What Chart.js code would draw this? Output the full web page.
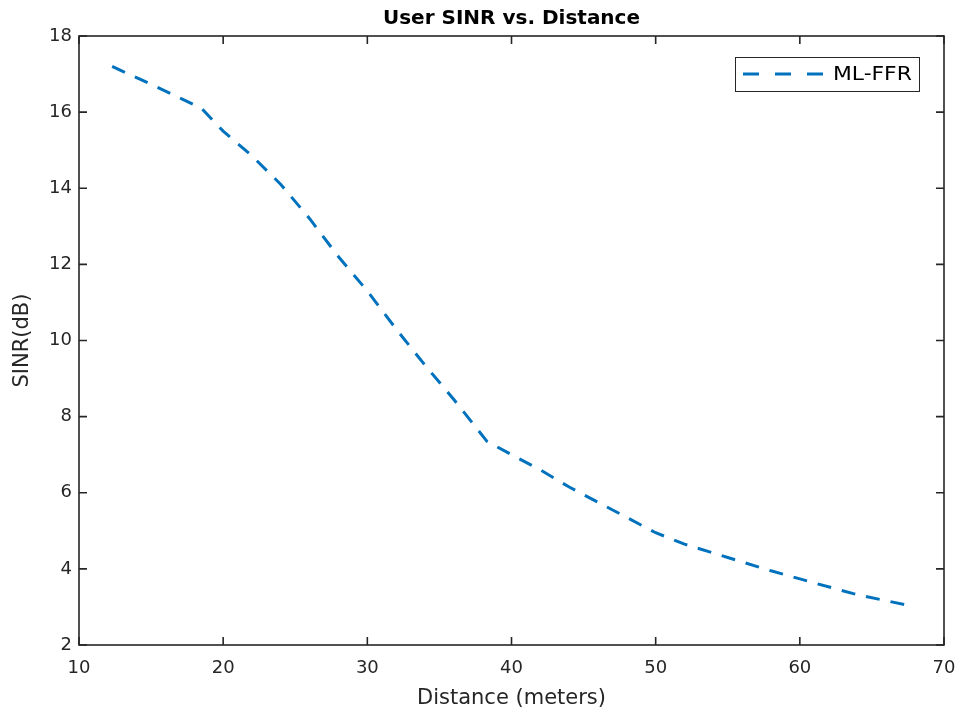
<!DOCTYPE html>
<html>
<head>
<meta charset="utf-8">
<script src="https://cdn.jsdelivr.net/npm/chart.js@4.4.1/dist/chart.umd.min.js"></script>
<style>
  html, body { margin: 0; padding: 0; background: #fff; }
  #wrap { width: 961px; height: 711px; position: relative; }
</style>
</head>
<body>
<div id="wrap"><canvas id="sinrChart"></canvas></div>
<script>
// distance (meters) and SINR (dB)
const distance = [12.3, 15, 18.5, 20, 22, 24, 26, 28, 30, 32, 34, 36, 38.3, 40, 42, 44, 46, 48, 50, 52, 55, 58, 61, 64, 67.8];
const sinr     = [17.2, 16.73, 16.1, 15.5, 14.85, 14.1, 13.2, 12.2, 11.3, 10.3, 9.35, 8.45, 7.35, 7.0, 6.6, 6.15, 5.75, 5.35, 4.95, 4.65, 4.3, 3.95, 3.63, 3.32, 3.02];
const seriesLabel = 'ML-FFR';
const xTicks = [10, 20, 30, 40, 50, 60, 70];
const yTicks = [2, 4, 6, 8, 10, 12, 14, 16, 18];

const axisColor = '#262626';
const lineColor = '#0072BD';
const fontFamily = '"DejaVu Sans", Verdana, sans-serif';

// matlab-ish box with inward ticks on all four sides + boxed legend
const boxPlugin = {
  id: 'boxPlugin',
  afterDraw(chart) {
    const ctx = chart.ctx;
    const a = chart.chartArea;
    const xs = chart.scales.x, ys = chart.scales.y;
    const tl = 8;
    ctx.save();
    ctx.strokeStyle = axisColor;
    ctx.lineWidth = 1.6;
    ctx.strokeRect(a.left, a.top, a.right - a.left, a.bottom - a.top);
    ctx.beginPath();
    xs.ticks.forEach(t => {
      const px = xs.getPixelForValue(t.value);
      ctx.moveTo(px, a.bottom); ctx.lineTo(px, a.bottom - tl);
      ctx.moveTo(px, a.top); ctx.lineTo(px, a.top + tl);
    });
    ys.ticks.forEach(t => {
      const py = ys.getPixelForValue(t.value);
      ctx.moveTo(a.left, py); ctx.lineTo(a.left + tl, py);
      ctx.moveTo(a.right, py); ctx.lineTo(a.right - tl, py);
    });
    ctx.stroke();

    // legend
    const ds = chart.data.datasets[0];
    const bw = 184, bh = 34;
    const bx = a.right - 25 - bw, by = a.top + 21;
    ctx.fillStyle = '#fff';
    ctx.fillRect(bx, by, bw, bh);
    ctx.lineWidth = 1;
    ctx.strokeStyle = axisColor;
    ctx.strokeRect(bx + 0.5, by + 0.5, bw, bh);
    ctx.strokeStyle = ds.borderColor;
    ctx.lineWidth = ds.borderWidth;
    ctx.setLineDash([16, 16]);
    ctx.beginPath();
    ctx.moveTo(bx + 8, by + bh / 2);
    ctx.lineTo(bx + 88, by + bh / 2);
    ctx.stroke();
    ctx.setLineDash([]);
    ctx.fillStyle = '#000';
    ctx.font = '19px ' + fontFamily;
    ctx.textBaseline = 'middle';
    ctx.textAlign = 'left';
    ctx.translate(bx + 98, by + bh / 2 + 1);
    ctx.scale(1.15, 1);
    ctx.fillText(ds.label, 0, 0);
    ctx.restore();
  }
};

new Chart(document.getElementById('sinrChart'), {
  type: 'line',
  data: {
    datasets: [{
      label: seriesLabel,
      data: distance.map((d, i) => ({ x: d, y: sinr[i] })),
      borderColor: lineColor,
      borderWidth: 3,
      borderDash: [14, 11],
      pointRadius: 0,
      tension: 0,
      fill: false
    }]
  },
  options: {
    responsive: true,
    maintainAspectRatio: false,
    animation: false,
    layout: { padding: { left: 0, right: 17, top: 0, bottom: 0 } },
    plugins: {
      legend: { display: false },
      tooltip: { enabled: false },
      title: {
        display: true,
        text: 'User SINR vs. Distance',
        color: '#000',
        fullSize: false,
        font: { family: fontFamily, size: 20, weight: 'bold', lineHeight: 1.2 },
        padding: { top: 7, bottom: 5 }
      }
    },
    scales: {
      x: {
        type: 'linear',
        min: 10, max: 70,
        afterBuildTicks: s => { s.ticks = xTicks.map(v => ({ value: v })); },
        afterFit: s => { s.height = 66; s.paddingLeft = 0; s.paddingRight = 0; },
        grid: { display: false, drawTicks: false },
        border: { display: false },
        ticks: { color: axisColor, padding: 13, maxRotation: 0, font: { family: fontFamily, size: 18 } },
        title: {
          display: true, text: 'Distance (meters)', color: axisColor,
          font: { family: fontFamily, size: 21 }, padding: { top: 2, bottom: 0 }
        }
      },
      y: {
        min: 2, max: 18,
        afterBuildTicks: s => { s.ticks = yTicks.map(v => ({ value: v })); },
        afterFit: s => { s.width = 79; },
        grid: { display: false, drawTicks: false },
        border: { display: false },
        ticks: { color: axisColor, padding: 7, font: { family: fontFamily, size: 18 } },
        title: {
          display: true, text: 'SINR(dB)', color: axisColor,
          font: { family: fontFamily, size: 21 }, padding: { top: 10, bottom: 4 }
        }
      }
    }
  },
  plugins: [boxPlugin]
});
</script>
</body>
</html>
